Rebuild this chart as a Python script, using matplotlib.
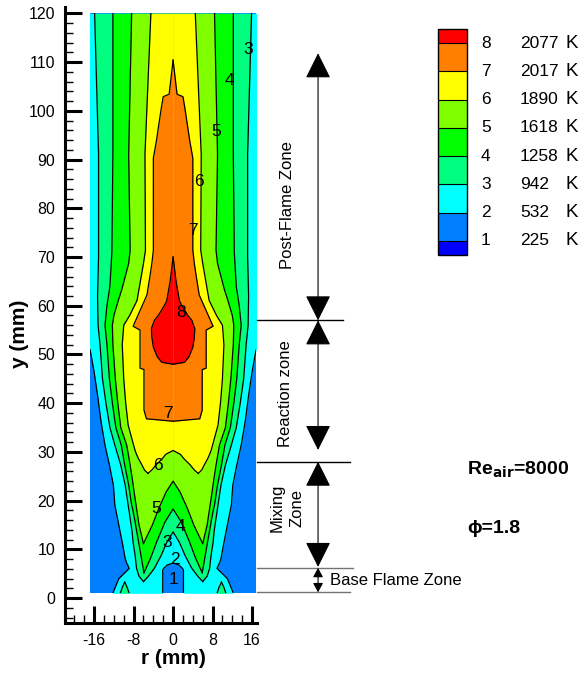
import numpy as np
import matplotlib
matplotlib.use("Agg")
import matplotlib.pyplot as plt
from matplotlib.colors import ListedColormap, BoundaryNorm
from matplotlib.cm import ScalarMappable
from matplotlib.patches import Rectangle
from matplotlib.ticker import MultipleLocator

plt.rcParams['font.family'] = ['Liberation Sans', 'DejaVu Sans']
plt.rcParams['axes.unicode_minus'] = False

# contour levels of the temperature field
level_ids = [1, 2, 3, 4, 5, 6, 7, 8]
level_temps = [225, 532, 942, 1258, 1618, 1890, 2017, 2077]
# below 1, 1-2, 2-3, ..., above 8
level_colors = ['#0000ff', '#0080ff', '#00ffff', '#00ff80', '#00ff00',
                '#80ff00', '#ffff00', '#ff8000', '#ff0000']

# measured field extent (mm)
field_r = 16.8
field_y = [1.0, 120.0]

# half-widths (mm) of the region above each level
# outer = outer contour, inner = inner contour (0 where the region is solid)
y2 = [1.0, 1.3, 4.0, 5.8, 6.1, 6.8, 7.2, 8.1, 10.9, 15.0, 19.1, 23.2, 27.3, 31.4,
      36.2, 41.6, 46.4, 50.9, 52.0, 120.0]
outer2 = [12.2, 12.1, 11.0, 9.2, 8.9, 9.2, 9.4, 9.7, 10.2, 11.0, 11.8, 12.1, 12.9, 13.8,
          14.6, 15.3, 16.0, 16.8, 17.5, 17.5]
inner2 = [2.1, 2.1, 2.1, 2.1, 1.9, 1.2, 0, 0, 0, 0, 0, 0, 0, 0,
          0, 0, 0, 0, 0, 0]

y3 = [3.4, 4.5, 6.1, 8.8, 11.4, 13.6, 15.0, 19.1, 23.2, 27.3, 31.4, 35.0, 40.0, 45.0,
      52.0, 56.0, 62.0, 70.0, 91.0, 120.0]
outer3 = [6.0, 6.9, 7.4, 7.7, 8.1, 8.3, 8.5, 9.1, 9.7, 10.6, 11.8, 12.8, 13.6, 14.3,
          14.8, 15.2, 15.3, 15.1, 15.1, 15.9]
inner3 = [6.0, 5.0, 3.8, 2.4, 1.3, 0, 0, 0, 0, 0, 0, 0, 0, 0,
          0, 0, 0, 0, 0, 0]

# small islands of level 3 at the burner exit
y3b = [1.0, 2.2, 3.3]
outer3b = [10.7, 10.3, 9.8]
inner3b = [8.9, 9.3, 9.8]

y4 = [5.2, 8.1, 11.6, 15.0, 15.7, 18.3, 19.1, 23.2, 27.3, 31.4, 35.0, 40.0, 45.0,
      52.0, 56.0, 60.0, 64.0, 71.0, 91.0, 120.0]
outer4 = [5.9, 6.4, 7.0, 7.6, 7.7, 8.2, 8.4, 9.0, 9.8, 10.5, 11.6, 12.3, 12.9,
          13.4, 13.8, 13.4, 12.8, 12.4, 12.2, 12.2]
inner4 = [5.9, 4.6, 3.3, 1.9, 1.6, 0, 0, 0, 0, 0, 0, 0, 0,
          0, 0, 0, 0, 0, 0, 0]

y5 = [11.2, 15.0, 18.4, 21.8, 24.0, 27.3, 31.4, 35.0, 40.0, 45.0, 52.0, 56.0, 58.0,
      61.1, 63.3, 66.0, 68.7, 71.4, 91.0, 120.0]
outer5 = [6.0, 6.9, 7.4, 7.9, 8.2, 8.7, 9.4, 10.6, 11.2, 11.7, 12.2, 12.3, 12.0,
          11.1, 10.4, 9.7, 9.0, 8.7, 9.0, 8.4]
inner5 = [6.0, 4.2, 2.9, 1.4, 0, 0, 0, 0, 0, 0, 0, 0, 0,
          0, 0, 0, 0, 0, 0, 0]

y6 = [25.6, 26.3, 27.3, 28.6, 29.5, 30.3, 31.4, 35.5, 40.0, 45.0, 52.0, 56.0, 58.0,
      61.1, 64.6, 68.7, 71.4, 91.0, 120.0]
outer6 = [5.1, 5.8, 6.3, 7.0, 7.4, 7.7, 8.0, 9.1, 9.6, 10.0, 10.3, 10.0, 8.8,
          7.3, 6.7, 6.0, 5.6, 5.7, 4.5]
inner6 = [5.1, 4.3, 3.5, 2.2, 1.5, 0, 0, 0, 0, 0, 0, 0, 0,
          0, 0, 0, 0, 0, 0]

y7 = [36.3, 36.8, 38.6, 46.9, 47.2, 55.0, 55.8, 62.2, 66.0, 68.7, 71.4, 90.3, 93.7,
      97.1, 100.5, 102.9, 103.4, 110.4]
outer7 = [0, 5.4, 5.9, 5.9, 6.7, 6.7, 8.1, 5.3, 4.7, 4.3, 4.0, 4.0, 3.4,
          2.9, 2.4, 2.0, 0.8, 0]

y8 = [48.0, 48.4, 49.5, 51.5, 53.5, 55.3, 57.0, 58.0, 60.0, 61.0, 65.0, 70.0]
outer8 = [0, 2.3, 3.2, 4.0, 4.3, 4.4, 3.8, 3.0, 1.8, 1.3, 0.6, 0]

# contour labels on the map
label_text = ['3', '4', '5', '6', '7', '8', '7', '6', '5', '4', '3', '2', '1']
label_r = [15.2, 11.5, 8.8, 5.3, 4.0, 1.6, -1.0, -3.1, -3.4, 1.4, -1.1, 0.4, 0.0]
label_y = [112.5, 106.3, 95.7, 85.4, 75.5, 58.7, 37.9, 27.3, 18.4, 14.8, 11.4, 7.9, 3.8]

# zones (y in mm)
zone_bounds = [57.0, 28.0, 6.2, 1.2]
postflame_top = 111.8

fig = plt.figure(figsize=(5.87, 6.73), dpi=100)
ax = fig.add_axes([65 / 587, 1 - 623 / 673, 192 / 587, 616 / 673])

clip = Rectangle((-field_r, field_y[0]), 2 * field_r, field_y[1] - field_y[0],
                 transform=ax.transData)

bg = ax.fill_betweenx(field_y, -field_r, field_r, color=level_colors[1], lw=0)
bg.set_clip_path(clip)

layers = [(2, y2, outer2, inner2), (3, y3, outer3, inner3), (3, y3b, outer3b, inner3b),
          (4, y4, outer4, inner4), (5, y5, outer5, inner5), (6, y6, outer6, inner6),
          (7, y7, outer7, None), (8, y8, outer8, None)]

for lev, yy, oo, ii in layers:
    yy = np.asarray(yy)
    oo = np.asarray(oo)
    ii = np.zeros_like(oo) if ii is None else np.asarray(ii)
    c = level_colors[lev]
    arts = [ax.fill_betweenx(yy, ii, oo, color=c, lw=0),
            ax.fill_betweenx(yy, -oo, -ii, color=c, lw=0)]
    arts += ax.plot(oo, yy, color='k', lw=0.9)
    arts += ax.plot(-oo, yy, color='k', lw=0.9)
    on = np.nonzero(ii > 0)[0]
    if len(on):
        k = on.max()
        if k + 1 < len(ii) and ii[k + 1] == 0:
            # inner contour closes at the axis: one line over the apex
            s = slice(0, k + 2)
            arts += ax.plot(np.r_[-ii[s], ii[s][::-1]], np.r_[yy[s], yy[s][::-1]],
                            color='k', lw=0.9)
        else:
            arts += ax.plot(ii, yy, color='k', lw=0.9)
            arts += ax.plot(-ii, yy, color='k', lw=0.9)
    for a in arts:
        a.set_clip_path(clip)

for t, r, y in zip(label_text, label_r, label_y):
    ax.text(r, y, t, fontsize=12.5, ha='center', va='center')

ax.set_xlim(-21.9, 17.0)
ax.set_ylim(-5.1, 121.3)
ax.set_xticks([-16, -8, 0, 8, 16])
ax.set_yticks(np.arange(0, 121, 10))
ax.xaxis.set_minor_locator(MultipleLocator(2))
ax.yaxis.set_minor_locator(MultipleLocator(2))
ax.tick_params(which='major', direction='in', length=12, width=2.2, labelsize=11.5, pad=7)
ax.tick_params(which='minor', direction='in', length=6, width=1.0)
for s in ['top', 'right']:
    ax.spines[s].set_visible(False)
for s in ['left', 'bottom']:
    ax.spines[s].set_linewidth(2.2)

ax.set_xlabel('r (mm)', fontsize=15, fontweight='bold')
ax.set_ylabel('y (mm)', fontsize=15, fontweight='bold')
ax.xaxis.set_label_coords(0.563, -0.043)
ax.yaxis.set_label_coords(-0.19, 0.47)

# zone markers to the right of the map
tr = ax.get_yaxis_transform()
arrow_x = 1.318
line_ends = [1.448, 1.484, 1.5, 1.484]
line_cols = ['k', 'k', '0.45', '0.45']
for yb, xe, lc in zip(zone_bounds, line_ends, line_cols):
    ax.plot([1.0, xe], [yb, yb], color=lc, lw=1.0, transform=tr, clip_on=False)

big = dict(arrowstyle='<|-|>,head_length=1.6,head_width=0.8', color='k', lw=0.8,
           shrinkA=0, shrinkB=0)
small = dict(arrowstyle='<|-|>,head_length=0.55,head_width=0.3', color='k', lw=0.8,
             shrinkA=0, shrinkB=0)
ax.annotate('', xy=(arrow_x, postflame_top), xytext=(arrow_x, zone_bounds[0]),
            xycoords=tr, textcoords=tr, arrowprops=big, annotation_clip=False)
ax.annotate('', xy=(arrow_x, zone_bounds[0]), xytext=(arrow_x, zone_bounds[1] + 2.4),
            xycoords=tr, textcoords=tr, arrowprops=big, annotation_clip=False)
ax.annotate('', xy=(arrow_x, zone_bounds[1]), xytext=(arrow_x, zone_bounds[2] + 0.2),
            xycoords=tr, textcoords=tr, arrowprops=big, annotation_clip=False)
ax.annotate('', xy=(arrow_x, zone_bounds[2]), xytext=(arrow_x, zone_bounds[3]),
            xycoords=tr, textcoords=tr, arrowprops=small, annotation_clip=False)

ax.text(1.161, 80.6, 'Post-Flame Zone', rotation=90, ha='center', va='center',
        fontsize=12, transform=tr, clip_on=False)
ax.text(1.151, 42.0, 'Reaction zone', rotation=90, ha='center', va='center',
        fontsize=12, transform=tr, clip_on=False)
ax.text(1.156, 18.5, 'Mixing\nZone', rotation=90, ha='center', va='center',
        fontsize=12, transform=tr, clip_on=False, linespacing=1.45)
ax.text(1.380, 3.7, 'Base Flame Zone', ha='left', va='center',
        fontsize=12, transform=tr, clip_on=False)

ax.text(2.094, 26.3, r'Re$_{\mathbf{air}}$=8000', ha='left', va='center',
        fontsize=14, fontweight='bold', transform=tr, clip_on=False)
ax.text(2.094, 14.2, '\u03d5=1.8', ha='left', va='center',
        fontsize=14, fontweight='bold', transform=tr, clip_on=False)

# level legend
cax = fig.add_axes([438 / 587, 1 - 255 / 673, 29 / 587, 226 / 673])
cmap = ListedColormap(level_colors[1:-1]).with_extremes(under=level_colors[0],
                                                        over=level_colors[-1])
norm = BoundaryNorm(level_temps, cmap.N)
cb = fig.colorbar(ScalarMappable(norm=norm, cmap=cmap), cax=cax, extend='both',
                  extendrect=True, extendfrac=0.5 / 7, drawedges=True, spacing='uniform')
cb.set_ticks([])
cb.ax.minorticks_off()
cb.outline.set_linewidth(1.0)
cb.dividers.set_linewidth(0.8)
ctr = cax.get_yaxis_transform()
for i, t in zip(level_ids, level_temps):
    cax.text(1.48, t, str(i), ha='left', va='center', fontsize=12.5, transform=ctr)
    cax.text(2.83, t, str(t), ha='left', va='center', fontsize=12.5, transform=ctr)
    cax.text(4.41, t, 'K', ha='left', va='center', fontsize=13.5, transform=ctr)

fig.savefig('out.png', dpi=100)
